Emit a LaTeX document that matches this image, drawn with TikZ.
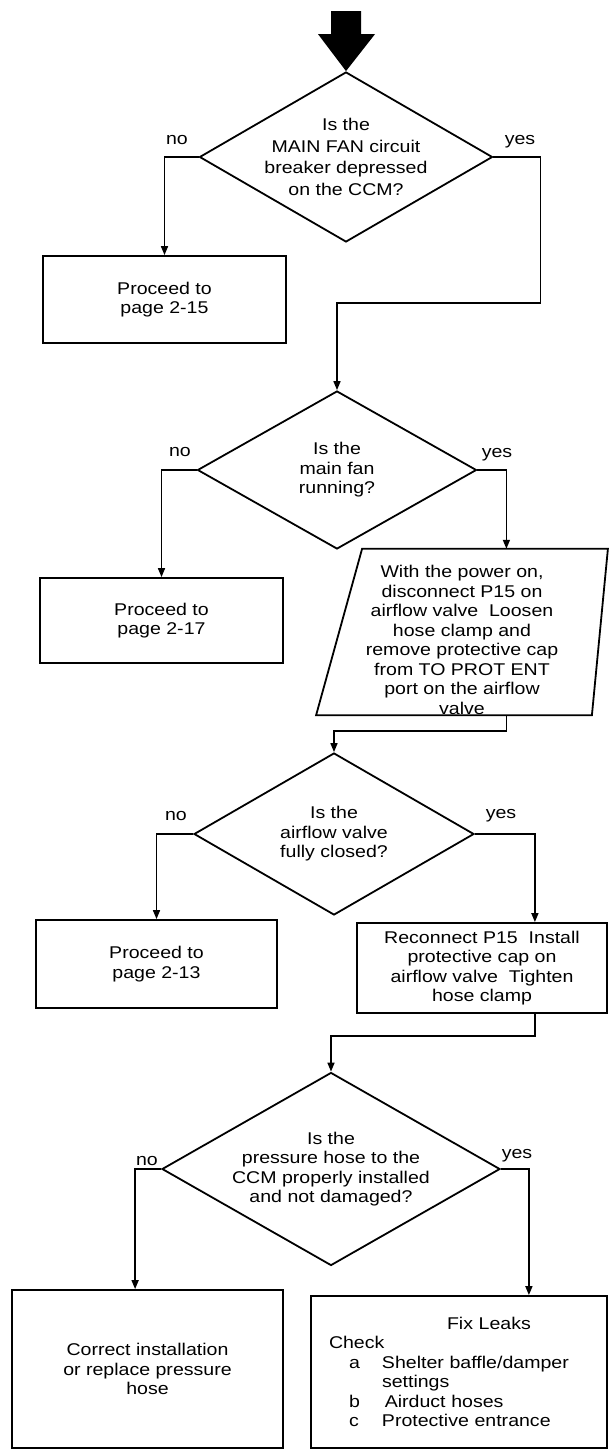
\documentclass[tikz,border=0pt]{standalone}
\usepackage{fontspec}
\setmainfont{Liberation Sans}[FakeStretch=1.15]
\usetikzlibrary{shapes.geometric,arrows.meta}
\newcommand{\leakitem}[2]{\makebox[53pt][l]{\hspace*{20pt}#1}#2}

\begin{document}
\begin{tikzpicture}[x=1pt,y=-1pt,line width=1.8pt,
    txt/.style={font=\fontsize{17}{19.5}\selectfont},
    decision/.style={txt,diamond,draw,align=center,inner sep=0pt},
    stepbox/.style={txt,rectangle,draw,align=center,inner sep=0pt},
    action/.style={txt,rectangle,align=center,inner sep=0pt},
    flow/.style={-{Triangle[length=9pt,width=7pt]},line width=1.6pt},
    answer/.style={txt}]
    \useasboundingbox (0,0) rectangle (608,1450);

    % questions
    \node[decision,font=\fontsize{17}{21.5}\selectfont,inner xsep=-3pt,aspect=1.72,
        minimum width=293pt,minimum height=170pt] (d1) at (346,157)
        {Is the\\MAIN FAN circuit\\breaker depressed\\on the CCM?};
    \node[decision,aspect=1.77,minimum width=279pt,minimum height=158pt] (d2) at (337,470)
        {Is the\\main fan\\running?};
    \node[decision,aspect=1.73,minimum width=280pt,minimum height=162pt] (d3) at (334,834)
        {Is the\\airflow valve\\fully closed?};
    \node[decision,aspect=1.75,minimum width=338pt,minimum height=193pt] (d4) at (331,1169)
        {Is the\\pressure hose to the\\CCM properly installed\\and not damaged?};

    % steps
    \node[stepbox,minimum width=243pt,minimum height=87pt] (box1) at (164.5,299.5) {Proceed to\\page 2-15};
    \node[stepbox,minimum width=243pt,minimum height=85pt] (box2) at (161.5,620.5) {Proceed to\\page 2-17};
    \node[action,minimum width=290pt,minimum height=164pt] (para) at (462,632)
        {\rule{0pt}{28pt}With the power on,\\disconnect P15 on\\airflow valve\ \ Loosen\\hose clamp and\\remove protective cap\\from TO PROT ENT\\port on the airflow\\valve};
    \draw ([xshift=46pt]para.north west) -- (para.north east)
        -- ([xshift=-16pt]para.south east) -- (para.south west) -- cycle;
    \node[stepbox,minimum width=241pt,minimum height=88pt] (box3) at (156.5,964) {Proceed to\\page 2-13};
    \node[stepbox,minimum width=250pt,minimum height=90pt] (box4) at (482,968)
        {Reconnect P15\ \ Install\\protective cap on\\airflow valve\ \ Tighten\\hose clamp};
    \node[stepbox,minimum width=271pt,minimum height=158pt] (box5) at (147.5,1369)
        {Correct installation\\or replace pressure\\hose};
    \node[stepbox,align=left,text width=260pt,minimum width=296pt,minimum height=152pt] (box6) at (459,1372)
        {\hspace*{118pt}Fix Leaks\\
         Check\\
         \leakitem{a}{Shelter baffle/damper}\\
         \leakitem{}{settings}\\
         \leakitem{b}{\,Airduct hoses}\\
         \leakitem{c}{Protective entrance}};

    % answers
    \node[answer] (no1) at (177,140) {no};
    \node[answer] (yes1) at (520,142) {yes};
    \node[answer] (no2) at (180,452) {no};
    \node[answer] (yes2) at (497,455) {yes};
    \node[answer] (no3) at (176,816) {no};
    \node[answer] (yes3) at (501,816) {yes};
    \node[answer] (no4) at (147,1161) {no};
    \node[answer] (yes4) at (517,1156) {yes};

    % entry arrow
    \fill (d1.north) -- ++(-28,-37) -- ++(13,0) -- ++(0,-23) -- ++(30,0)
        -- ++(0,23) -- ++(14,0) -- cycle;

    % connectors
    \draw[flow] (d1.west) -| (box1.north);
    \draw[flow] (d1.east) -- ++(47,0) -- ++(0,146) -| (d2.north);
    \draw[flow] (d2.west) -| (box2.north);
    \draw[flow] (d2.east) -- ++(29,0) coordinate (y2) -- (y2 |- para.north);
    \draw[flow] (y2 |- para.south) -- ++(0,16) -| (d3.north);
    \draw[flow] (d3.west) -| (box3.north);
    \draw[flow] (d3.east) -- ++(60,0) coordinate (y3) -- (y3 |- box4.north);
    \draw[flow] (y3 |- box4.south) -- ++(0,22) -| (d4.north);
    \draw[flow] (d4.west) -- ++(-26,0) coordinate (n4) -- (n4 |- box5.north);
    \draw[flow] (d4.east) -- ++(28,0) coordinate (y4) -- (y4 |- box6.north);
\end{tikzpicture}
\end{document}
